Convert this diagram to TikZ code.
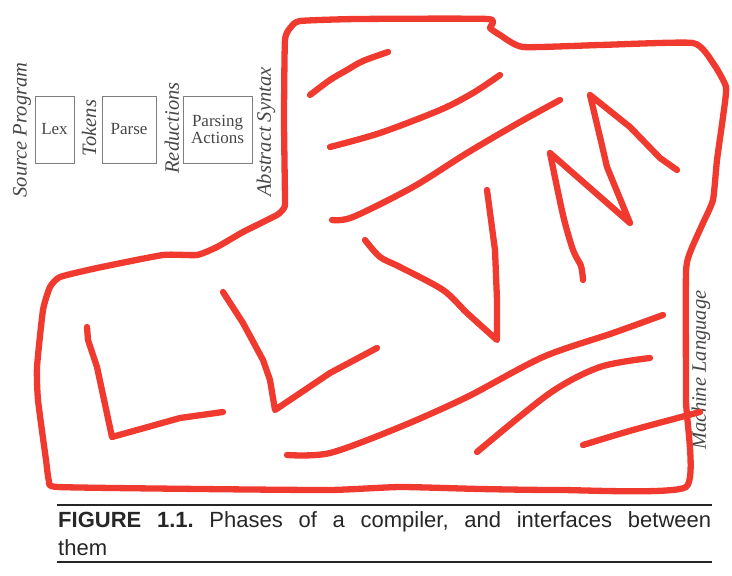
\documentclass[tikz,border=0pt]{standalone}
\usepackage{fontspec}
\setmainfont{Liberation Serif}
\newfontfamily\capfont{Liberation Sans}
\definecolor{marker}{RGB}{240,58,48}
\definecolor{ink}{RGB}{70,70,70}
\frenchspacing
\begin{document}
\begin{tikzpicture}[x=1pt,y=-1pt,
  stage/.style={draw=ink!70, line width=0.8pt, minimum height=67pt, inner sep=0pt, align=center,
    font=\fontsize{17}{17.5}\selectfont, text=ink},
  iface/.style={rotate=90, font=\fontsize{20.5}{22}\selectfont\itshape, text=ink, inner sep=0pt},
  pen/.style={draw=marker, line width=6.3pt, line cap=round, line join=round},
  rulebar/.style={draw=black!85, line width=2.2pt},
  caption/.style={anchor=north west, inner sep=0pt, text width=653pt, align=justify,
    font=\capfont\fontsize{22}{28}\selectfont, text=black!85}]
\useasboundingbox (0,0) rectangle (732,576);

% compiler phases
\node[iface] (src) at (22,130) {Source Program};
\node[stage, minimum width=39pt] (lex) at (54.5,129.5) {Lex};
\node[iface] (tok) at (89,128) {Tokens};
\node[stage, minimum width=54pt] (parse) at (129,129.5) {Parse};
\node[iface] (red) at (172,128) {Reductions};
\node[stage, minimum width=69pt] (act) at (217.5,129.5) {Parsing\\Actions};
\node[iface] (abs) at (266,132) {Abstract Syntax};
\node[iface] (mach) at (701,370) {Machine Language};

% red marker outline
\draw[pen] plot[smooth cycle, tension=0.3] coordinates {
  (285,200) (284,120) (285,40) (291,27) (300,21) (357,19) (488,19) (490,28) (500,35) (523,47)
  (600,45) (693,43) (713,63) (726,87) (723,117) (717,160) (713,200) (703,223) (691,250)
  (686,272) (686,400) (686,487) (560,490) (480,489) (400,487) (330,490) (200,489) (58,487)
  (49,481) (46,460) (38,400) (37,367) (43,310) (50,287) (60,277) (97,268) (163,255) (197,255)
  (217,247) (243,232) (277,215) (284,208)};

% scribbles
\draw[pen] plot[smooth] coordinates {(310,95) (330,80) (347,70) (363,61) (388,52)};
\draw[pen] plot[smooth] coordinates {(330,147) (380,133) (440,110) (473,93) (500,75)};
\draw[pen] plot[smooth] coordinates {(332,220) (353,217) (413,187) (467,153) (520,122) (560,100)};
% M
\draw[pen] plot[smooth] coordinates {(583,280) (581,266) (573,250) (563,215) (550,153)}
  -- (630,223) -- (607,167) -- (600,137) -- (590,95) -- (630,127) -- (660,158) -- (677,170);
% V
\draw[pen] plot[smooth] coordinates {(365,240) (380,257) (400,267) (443,290) (467,313) (497,340)}
  -- (497,300) -- (495,250) -- (487,190);
% L L
\draw[pen] (87,327) -- (88,340) -- (97,367) -- (112,437) -- (180,418) -- (223,412);
\draw[pen] (223,292) -- (243,323) -- (263,360) -- (270,380) -- (275,410) -- (330,373) -- (377,348);
% long strokes
\draw[pen] plot[smooth] coordinates {(287,455) (330,453) (400,427) (467,397) (543,357) (613,333) (663,315)};
\draw[pen] plot[smooth] coordinates {(477,452) (550,393) (600,367) (650,358)};
\draw[pen] plot[smooth] coordinates {(583,445) (633,430) (700,412)};

% caption
\coordinate (r1a) at (57,505);
\coordinate (r1b) at (712,505);
\coordinate (r2a) at (57,562);
\coordinate (r2b) at (712,562);
\draw[rulebar] (r1a) -- (r1b);
\draw[rulebar] (r2a) -- (r2b);
\node[caption] (cap) at (58,511) {\textbf{FIGURE 1.1.} Phases of a compiler, and interfaces between\linebreak them};
\end{tikzpicture}
\end{document}
